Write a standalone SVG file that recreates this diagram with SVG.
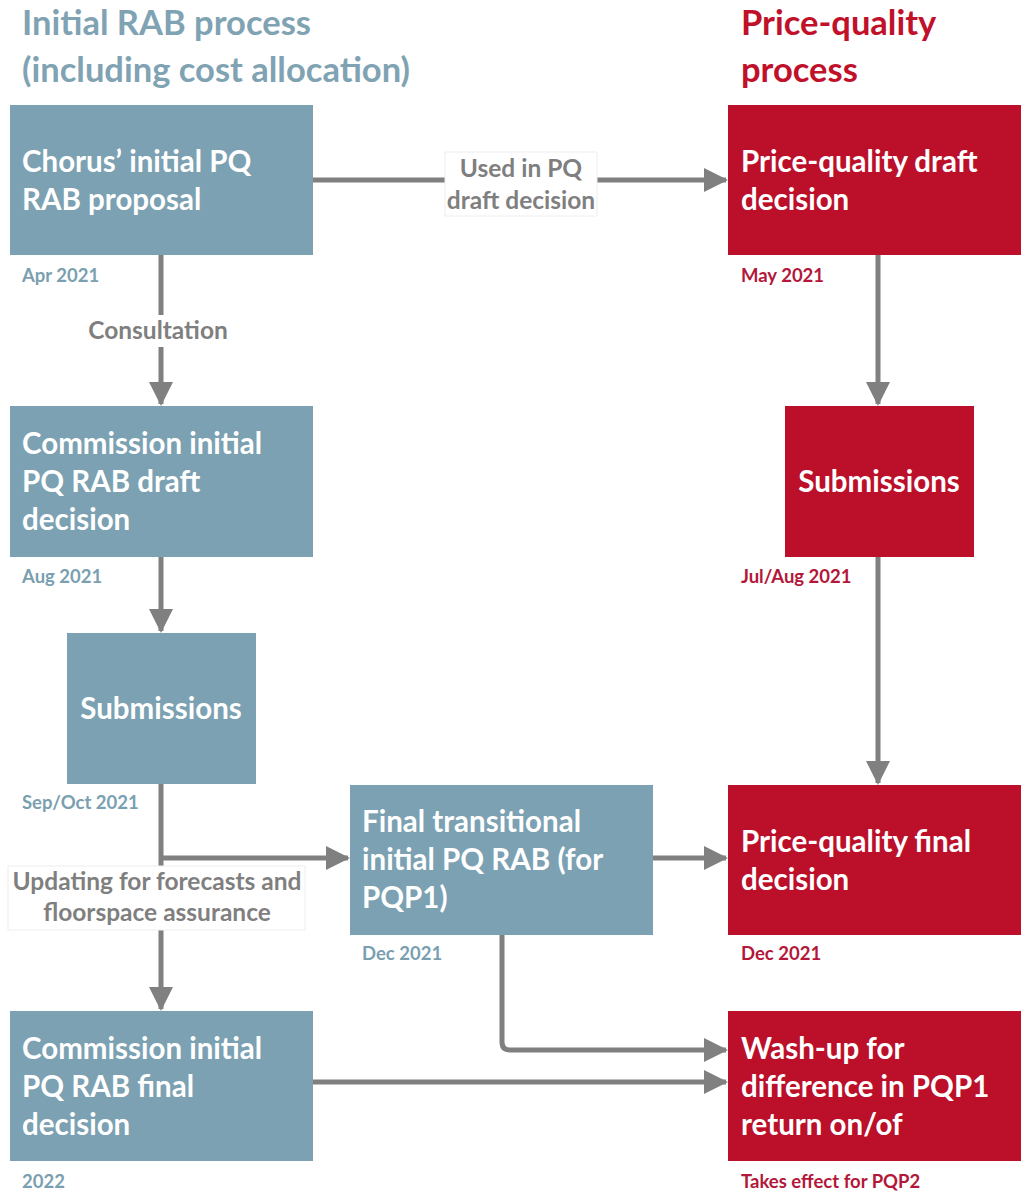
<svg xmlns="http://www.w3.org/2000/svg" width="1021" height="1191" viewBox="0 0 1021 1191">
<style>
.blue{fill:#7ba1b2}
.red{fill:#bb0f2a}
.t{font-family:Lato,"Open Sans","Liberation Sans",sans-serif;font-weight:bold;fill:#ffffff;font-size:29.5px}
.d{font-family:Lato,"Open Sans","Liberation Sans",sans-serif;font-weight:bold;font-size:18.5px}
.db{fill:#7a9fb0}
.dr{fill:#b3173a}
.h{font-family:Lato,"Open Sans","Liberation Sans",sans-serif;font-weight:bold;font-size:34.5px}
.lbl{font-family:Lato,"Open Sans","Liberation Sans",sans-serif;font-weight:bold;font-size:24.5px;fill:#7f7f7f}
.c{fill:none;stroke:#808080;stroke-width:5}
</style>
<defs>
<marker id="ah" markerUnits="userSpaceOnUse" markerWidth="26" markerHeight="26" refX="22" refY="12" orient="auto">
<path d="M0,0 L24,12 L0,24 Z" fill="#808080"/>
</marker>
</defs>
<text class="h" x="22" y="35" fill="#7fa3b3">Initial RAB process</text>
<text class="h" x="22" y="82" fill="#7fa3b3">(including cost allocation)</text>
<text class="h" x="741" y="35" fill="#c0102a">Price-quality</text>
<text class="h" x="741" y="82" fill="#c0102a">process</text>

<g id="connectors">
<path class="c" d="M313,180 H726" marker-end="url(#ah)"/>
<path class="c" d="M161,255 V404" marker-end="url(#ah)"/>
<path class="c" d="M161,557 V631" marker-end="url(#ah)"/>
<path class="c" d="M161,784 V1009" marker-end="url(#ah)"/>
<path class="c" d="M161,858 H348" marker-end="url(#ah)"/>
<path class="c" d="M653,858 H726" marker-end="url(#ah)"/>
<path class="c" d="M878,255 V404" marker-end="url(#ah)"/>
<path class="c" d="M878,557 V783" marker-end="url(#ah)"/>
<path class="c" d="M313,1082 H726" marker-end="url(#ah)"/>
<path class="c" d="M502,935 V1042 Q502,1050 510,1050 H726" marker-end="url(#ah)"/>
<g id="lbl-used">
<rect x="445" y="152" width="152" height="64" fill="#ffffff" stroke="#eeeeee"/>
<text class="lbl" x="521" y="177" text-anchor="middle">Used in PQ</text>
<text class="lbl" x="521" y="209" text-anchor="middle">draft decision</text>
</g>
<g id="lbl-consult">
<rect x="84" y="315" width="148" height="32" fill="#ffffff"/>
<text class="lbl" x="158" y="339" text-anchor="middle">Consultation</text>
</g>
<g id="lbl-update">
<rect x="8" y="866" width="297" height="64" fill="#ffffff" stroke="#eeeeee"/>
<text class="lbl" x="157" y="890" text-anchor="middle">Updating for forecasts and</text>
<text class="lbl" x="157" y="921" text-anchor="middle">floorspace assurance</text>
</g>
</g>

<g id="n1">
<rect class="blue" x="10" y="105" width="303" height="150"/>
<text class="t" x="22" y="172">Chorus’ initial PQ</text>
<text class="t" x="22" y="210">RAB proposal</text>
<text class="d db" x="22" y="282">Apr 2021</text>
</g>
<g id="n2">
<rect class="blue" x="10" y="406" width="303" height="151"/>
<text class="t" x="22" y="454">Commission initial</text>
<text class="t" x="22" y="492">PQ RAB draft</text>
<text class="t" x="22" y="530">decision</text>
<text class="d db" x="22" y="583">Aug 2021</text>
</g>
<g id="n3">
<rect class="blue" x="67" y="633" width="189" height="151"/>
<text class="t" x="161" y="719" text-anchor="middle">Submissions</text>
<text class="d db" x="22" y="809">Sep/Oct 2021</text>
</g>
<g id="n4">
<rect class="blue" x="350" y="785" width="303" height="150"/>
<text class="t" x="362" y="832">Final transitional</text>
<text class="t" x="362" y="870">initial PQ RAB (for</text>
<text class="t" x="362" y="908">PQP1)</text>
<text class="d db" x="362" y="960">Dec 2021</text>
</g>
<g id="n5">
<rect class="blue" x="10" y="1011" width="303" height="150"/>
<text class="t" x="22" y="1059">Commission initial</text>
<text class="t" x="22" y="1097">PQ RAB final</text>
<text class="t" x="22" y="1135">decision</text>
<text class="d db" x="22" y="1188">2022</text>
</g>
<g id="r1">
<rect class="red" x="728" y="105" width="293" height="150"/>
<text class="t" x="741" y="172">Price-quality draft</text>
<text class="t" x="741" y="210">decision</text>
<text class="d dr" x="741" y="282">May 2021</text>
</g>
<g id="r2">
<rect class="red" x="785" y="406" width="189" height="151"/>
<text class="t" x="879" y="492" text-anchor="middle">Submissions</text>
<text class="d dr" x="741" y="583">Jul/Aug 2021</text>
</g>
<g id="r3">
<rect class="red" x="728" y="785" width="293" height="150"/>
<text class="t" x="741" y="852">Price-quality final</text>
<text class="t" x="741" y="890">decision</text>
<text class="d dr" x="741" y="960">Dec 2021</text>
</g>
<g id="r4">
<rect class="red" x="728" y="1011" width="293" height="150"/>
<text class="t" x="741" y="1059">Wash-up for</text>
<text class="t" x="741" y="1097">difference in PQP1</text>
<text class="t" x="741" y="1135">return on/of</text>
<text class="d dr" x="741" y="1188">Takes effect for PQP2</text>
</g>
</svg>
